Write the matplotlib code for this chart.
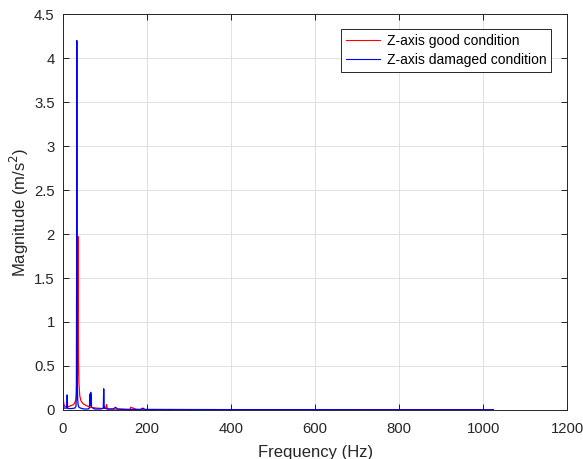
import matplotlib
matplotlib.use("Agg")
import matplotlib.pyplot as plt

plt.rcParams["font.family"] = ["Liberation Sans", "DejaVu Sans"]

# Z-axis good condition (red)
freq_good = [0, 0.5, 1, 2, 5, 10, 15, 20, 25, 28, 31, 33, 34, 35, 35.5, 36, 36.5, 37, 38, 40,
             43, 48, 55, 65, 80, 95, 102, 103, 104, 105, 106, 115, 130, 150, 160, 161, 175,
             200, 250, 300, 400, 500, 600, 700, 800, 900, 1000, 1024]
mag_good = [0.6, 0.3, 0.12, 0.06, 0.04, 0.035, 0.04, 0.05, 0.06, 0.08, 0.12, 0.2, 0.3, 0.55, 1.0,
            1.97, 1.0, 0.55, 0.3, 0.16, 0.1, 0.07, 0.05, 0.03, 0.02, 0.015, 0.02, 0.05, 0.06, 0.02,
            0.01, 0.01, 0.008, 0.006, 0.005, 0.03, 0.006, 0.004, 0.004, 0.003, 0.003, 0.002,
            0.002, 0.002, 0.002, 0.002, 0.002, 0.002]

# Z-axis damaged condition (blue)
freq_dam = [0, 0.5, 1, 2, 5, 9, 10, 11, 14, 20, 28, 31, 32, 32.5, 33, 33.5, 34, 35, 36, 38, 42,
            50, 60, 63, 64, 65, 66, 67, 68, 75, 90, 96, 97, 98, 99, 105, 120, 125, 130, 150,
            185, 190, 195, 250, 300, 400, 500, 600, 700, 800, 900, 1000, 1024]
mag_dam = [1.85, 0.6, 0.1, 0.02, 0.02, 0.02, 0.17, 0.02, 0.015, 0.015, 0.02, 0.04, 0.3, 1.5,
           4.2, 1.5, 0.3, 0.12, 0.06, 0.03, 0.02, 0.01, 0.01, 0.02, 0.18, 0.05, 0.2, 0.17, 0.03,
           0.01, 0.01, 0.02, 0.24, 0.05, 0.02, 0.01, 0.01, 0.03, 0.01, 0.005, 0.005, 0.02, 0.005,
           0.004, 0.004, 0.003, 0.003, 0.003, 0.002, 0.002, 0.002, 0.002, 0.002]

fig = plt.figure(figsize=(5.83, 4.59), dpi=100)
ax = fig.add_axes([0.108, 0.107, 0.865, 0.862])

ax.plot(freq_good, mag_good, color="#ff0000", lw=0.9, label="Z-axis good condition")
ax.plot(freq_dam, mag_dam, color="#0000ff", lw=0.9, label="Z-axis damaged condition")

ax.set_xlim(0, 1200)
ax.set_ylim(0, 4.5)
ax.set_xticks(range(0, 1201, 200))
ax.set_yticks([0, 0.5, 1, 1.5, 2, 2.5, 3, 3.5, 4, 4.5])
ax.set_yticklabels(["0", "0.5", "1", "1.5", "2", "2.5", "3", "3.5", "4", "4.5"])
ax.grid(True, color="#dcdcdc", lw=0.6)
ax.set_axisbelow(True)
ax.tick_params(direction="in", top=True, right=True, labelsize=10.7, length=4, width=0.6,
               labelcolor="#262626")
ax.tick_params(axis="x", pad=9)
ax.tick_params(axis="y", pad=6)
for s in ax.spines.values():
    s.set_linewidth(0.7)
    s.set_color("#262626")

ax.set_xlabel("Frequency (Hz)", fontsize=12, color="#262626", labelpad=6)
ax.set_ylabel("Magnitude (m/s$^2$)", fontsize=12, color="#262626", labelpad=2)

leg = ax.legend(loc="upper right", bbox_to_anchor=(0.976, 0.973), fontsize=10,
                fancybox=False, framealpha=1, edgecolor="#262626", handlelength=2.45,
                handletextpad=0.5, borderpad=0.35, labelspacing=0.35, borderaxespad=0.3)
leg.get_frame().set_linewidth(0.7)
for line in leg.get_lines():
    line.set_linewidth(0.8)

fig.savefig("out.png", dpi=100)
